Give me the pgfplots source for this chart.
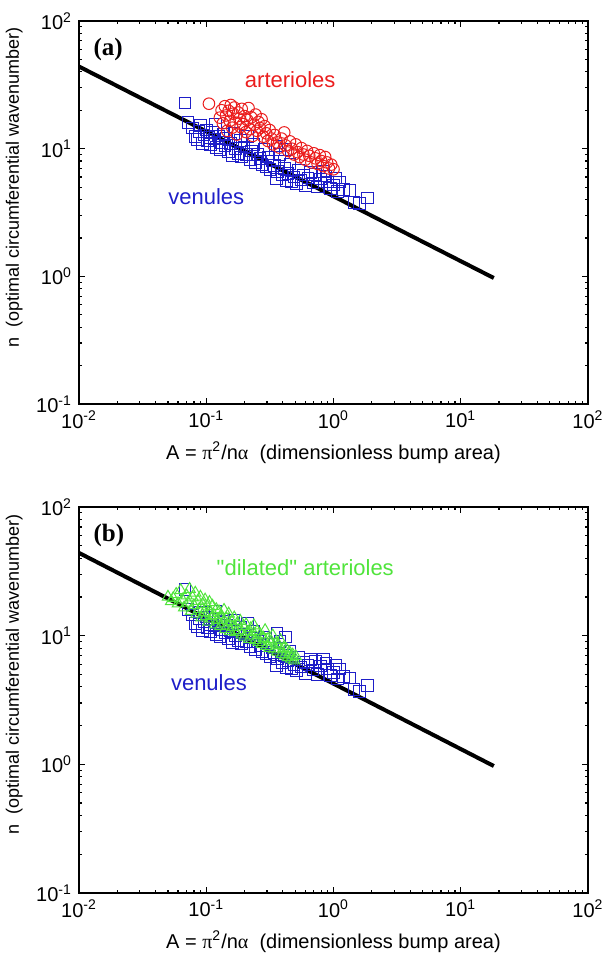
\documentclass[border=0pt]{standalone}
\usepackage{fontspec}
\setmainfont{Liberation Sans}
\newfontfamily\serif{Liberation Serif}
\usepackage{pgfplots}
\usepackage{pgfplotstable}
\pgfplotsset{compat=1.18}

\definecolor{ven}{RGB}{30,30,200}
\definecolor{art}{RGB}{235,30,30}
\definecolor{dil}{RGB}{80,228,60}

% marks that set their own stroke colour each time they are drawn
\makeatletter
\pgfdeclareplotmark{vsq}{%
  \pgfsys@color@rgb@stroke{0.118}{0.118}{0.784}%
  \pgfpathrectangle{\pgfqpoint{-\pgfplotmarksize}{-\pgfplotmarksize}}{\pgfqpoint{2\pgfplotmarksize}{2\pgfplotmarksize}}%
  \pgfusepathqstroke}
\pgfdeclareplotmark{acirc}{%
  \pgfsys@color@rgb@stroke{0.922}{0.118}{0.118}%
  \pgfpathcircle{\pgfpointorigin}{\pgfplotmarksize}%
  \pgfusepathqstroke}
\pgfdeclareplotmark{dtri}{%
  \pgfsys@color@rgb@stroke{0.314}{0.894}{0.235}%
  \pgfpathmoveto{\pgfqpointpolar{90}{\pgfplotmarksize}}%
  \pgfpathlineto{\pgfqpointpolar{-30}{\pgfplotmarksize}}%
  \pgfpathlineto{\pgfqpointpolar{210}{\pgfplotmarksize}}%
  \pgfpathclose
  \pgfusepathqstroke}
\makeatother

% venules (both panels)
\pgfplotstableread{
A n
0.068 22.8
0.072 16.0
0.078 14.5
0.082 12.5
0.085 11.8
0.088 13.6
0.090 15.2
0.093 11.0
0.096 12.8
0.100 14.0
0.102 11.5
0.105 12.2
0.108 10.8
0.112 13.5
0.115 11.9
0.118 15.5
0.120 10.2
0.125 12.6
0.128 9.9
0.132 11.2
0.136 13.0
0.140 10.5
0.145 12.0
0.150 9.5
0.155 11.0
0.160 8.8
0.165 13.2
0.170 10.0
0.178 9.2
0.185 11.6
0.190 8.6
0.198 10.3
0.205 9.0
0.212 12.4
0.220 8.2
0.228 9.6
0.236 10.8
0.245 7.8
0.255 9.0
0.265 8.4
0.275 7.5
0.285 9.8
0.295 7.2
0.305 8.6
0.318 6.9
0.330 8.0
0.345 7.4
0.355 5.8
0.360 10.5
0.365 6.6
0.380 9.0
0.395 6.2
0.410 7.0
0.420 9.8
0.425 5.6
0.440 6.4
0.455 7.6
0.470 5.5
0.490 6.0
0.510 5.3
0.530 6.8
0.555 5.7
0.580 6.2
0.600 5.1
0.630 5.9
0.660 6.5
0.690 5.4
0.720 6.3
0.750 5.0
0.790 5.8
0.830 6.6
0.870 6.1
0.900 5.5
0.950 4.9
1.000 5.2
1.050 5.9
1.080 4.6
1.120 5.5
1.200 4.8
1.350 4.7
1.450 3.8
1.600 3.7
1.850 4.1
}\venules

% arterioles (panel a)
\pgfplotstableread{
A n
0.105 22.5
0.128 17.5
0.132 20.0
0.135 15.8
0.140 21.5
0.143 18.2
0.146 13.8
0.150 19.8
0.153 16.5
0.156 22.0
0.160 14.6
0.163 18.8
0.166 21.0
0.170 16.0
0.174 12.9
0.178 19.2
0.182 17.2
0.186 14.8
0.190 20.5
0.195 15.6
0.200 18.0
0.205 13.5
0.210 16.8
0.215 20.8
0.220 14.2
0.226 17.6
0.232 12.6
0.238 15.4
0.244 18.5
0.250 13.8
0.257 16.2
0.264 14.5
0.272 17.0
0.280 12.4
0.288 15.0
0.296 13.2
0.305 11.5
0.315 14.0
0.325 12.0
0.335 10.8
0.345 12.8
0.360 11.2
0.375 10.2
0.390 12.0
0.410 13.4
0.420 10.6
0.440 9.6
0.455 11.4
0.470 10.0
0.490 9.0
0.505 10.8
0.520 9.4
0.540 8.6
0.560 10.1
0.580 9.0
0.600 8.2
0.620 9.6
0.645 8.8
0.670 7.8
0.700 9.2
0.720 8.4
0.750 7.6
0.780 8.9
0.800 8.0
0.830 7.3
0.860 8.6
0.890 7.8
0.920 7.0
0.960 7.5
1.000 6.9
}\arterioles

% dilated arterioles (panel b)
\pgfplotstableread{
A n
0.050 20.0
0.053 18.5
0.055 19.5
0.058 21.0
0.060 17.8
0.063 22.5
0.065 19.0
0.067 16.5
0.070 20.5
0.072 18.0
0.074 23.0
0.076 15.5
0.078 19.8
0.080 17.2
0.082 21.5
0.084 14.8
0.086 18.6
0.088 16.0
0.090 20.0
0.092 13.8
0.094 17.5
0.096 15.2
0.098 19.0
0.100 14.2
0.102 16.8
0.104 12.8
0.106 18.2
0.108 15.0
0.110 13.5
0.112 17.0
0.115 14.4
0.118 12.2
0.120 16.0
0.123 13.2
0.126 15.4
0.129 11.8
0.132 14.0
0.135 12.6
0.138 15.8
0.141 11.2
0.144 13.6
0.147 12.0
0.150 14.8
0.154 10.8
0.158 12.9
0.162 11.6
0.166 13.8
0.170 10.6
0.175 12.4
0.180 11.0
0.185 13.0
0.190 10.2
0.195 11.8
0.200 9.8
0.206 12.2
0.212 10.6
0.218 9.4
0.224 11.4
0.230 10.0
0.237 12.0
0.244 9.2
0.251 10.8
0.258 8.9
0.266 10.2
0.274 8.6
0.282 9.6
0.290 11.0
0.298 8.3
0.306 9.4
0.315 8.0
0.324 9.0
0.333 10.0
0.342 7.8
0.352 8.7
0.362 7.5
0.372 8.4
0.383 9.2
0.394 7.2
0.405 8.0
0.416 7.0
0.428 7.8
0.440 6.8
0.452 7.4
0.465 6.6
0.478 7.1
0.490 6.4
0.505 6.9
}\dilated

\begin{document}
\begin{tikzpicture}
% panel (a)
\begin{axis}[
    at={(0,0)}, anchor=north west,
    xmode=log, ymode=log,
    xmin=0.01, xmax=100, ymin=0.1, ymax=100,
    scale only axis, width=254.5pt, height=191.5pt,
    xtick={0.01,0.1,1,10,100},
    xticklabels={10\textsuperscript{-2},10\textsuperscript{-1},10\textsuperscript{0},10\textsuperscript{1},10\textsuperscript{2}},
    ytick={0.1,1,10,100},
    yticklabels={10\textsuperscript{-1},10\textsuperscript{0},10\textsuperscript{1},10\textsuperscript{2}},
    minor xtick={0.02,0.03,0.04,0.05,0.06,0.07,0.08,0.09,0.2,0.3,0.4,0.5,0.6,0.7,0.8,0.9,2,3,4,5,6,7,8,9,20,30,40,50,60,70,80,90},
    minor ytick={0.2,0.3,0.4,0.5,0.6,0.7,0.8,0.9,2,3,4,5,6,7,8,9,20,30,40,50,60,70,80,90},
    tick align=inside, major tick length=3pt, minor tick length=1.6pt,
    axis line style={line width=1pt},
    every tick/.style={black, line width=0.6pt},
    tick label style={font=\fontsize{10}{11}\selectfont},
    xlabel style={font=\fontsize{10}{12}\selectfont},
    ylabel style={font=\fontsize{9}{11}\selectfont, at={(ticklabel cs:0.565)}},
    xlabel={A = {\serif π}\textsuperscript{2}/n{\serif α}\ \ (dimensionless bump area)},
    ylabel={n\ \ (optimal circumferential wavenumber)},
]
\addplot[black, line width=2pt] coordinates {(0.01,44) (18.2,0.97)};
\addplot[only marks, draw=ven, mark=vsq, mark size=2.9pt, mark options={line width=0.5pt}] table[x=A,y=n] {\venules};
\addplot[only marks, draw=art, mark=acirc, mark size=2.9pt, mark options={line width=0.5pt}] table[x=A,y=n] {\arterioles};
\node[font=\serif\bfseries\fontsize{12.5}{14}\selectfont, anchor=west, inner sep=0pt] at (rel axis cs:0.028,0.925) {(a)};
\node[text=art, font=\fontsize{11}{13}\selectfont] at (axis cs:0.457,35) {arterioles};
\node[text=ven, font=\fontsize{11}{13}\selectfont] at (axis cs:0.1,4.2) {venules};
\end{axis}
% panel (b)
\begin{axis}[
    at={(0,-243pt)}, anchor=north west,
    xmode=log, ymode=log,
    xmin=0.01, xmax=100, ymin=0.1, ymax=100,
    scale only axis, width=254.5pt, height=193pt,
    xtick={0.01,0.1,1,10,100},
    xticklabels={10\textsuperscript{-2},10\textsuperscript{-1},10\textsuperscript{0},10\textsuperscript{1},10\textsuperscript{2}},
    ytick={0.1,1,10,100},
    yticklabels={10\textsuperscript{-1},10\textsuperscript{0},10\textsuperscript{1},10\textsuperscript{2}},
    minor xtick={0.02,0.03,0.04,0.05,0.06,0.07,0.08,0.09,0.2,0.3,0.4,0.5,0.6,0.7,0.8,0.9,2,3,4,5,6,7,8,9,20,30,40,50,60,70,80,90},
    minor ytick={0.2,0.3,0.4,0.5,0.6,0.7,0.8,0.9,2,3,4,5,6,7,8,9,20,30,40,50,60,70,80,90},
    tick align=inside, major tick length=3pt, minor tick length=1.6pt,
    axis line style={line width=1pt},
    every tick/.style={black, line width=0.6pt},
    tick label style={font=\fontsize{10}{11}\selectfont},
    xlabel style={font=\fontsize{10}{12}\selectfont},
    ylabel style={font=\fontsize{9}{11}\selectfont, at={(ticklabel cs:0.565)}},
    xlabel={A = {\serif π}\textsuperscript{2}/n{\serif α}\ \ (dimensionless bump area)},
    ylabel={n\ \ (optimal circumferential wavenumber)},
]
\addplot[black, line width=2pt] coordinates {(0.01,44) (18.2,0.97)};
\addplot[only marks, draw=ven, mark=vsq, mark size=2.9pt, mark options={line width=0.5pt}] table[x=A,y=n] {\venules};
\addplot[only marks, draw=dil, mark=dtri, mark size=3.3pt, mark options={line width=0.5pt}] table[x=A,y=n] {\dilated};
\node[font=\serif\bfseries\fontsize{12.5}{14}\selectfont, anchor=west, inner sep=0pt] at (rel axis cs:0.028,0.925) {(b)};
\node[text=dil, font=\fontsize{11}{13}\selectfont] at (axis cs:0.6,33.6) {\textquotedbl dilated\textquotedbl\ arterioles};
\node[text=ven, font=\fontsize{11}{13}\selectfont] at (axis cs:0.105,4.3) {venules};
\end{axis}
\pgfresetboundingbox
\path[use as bounding box] (-39.5pt,10.5pt) rectangle (262pt,-468.5pt);
\end{tikzpicture}
\end{document}
